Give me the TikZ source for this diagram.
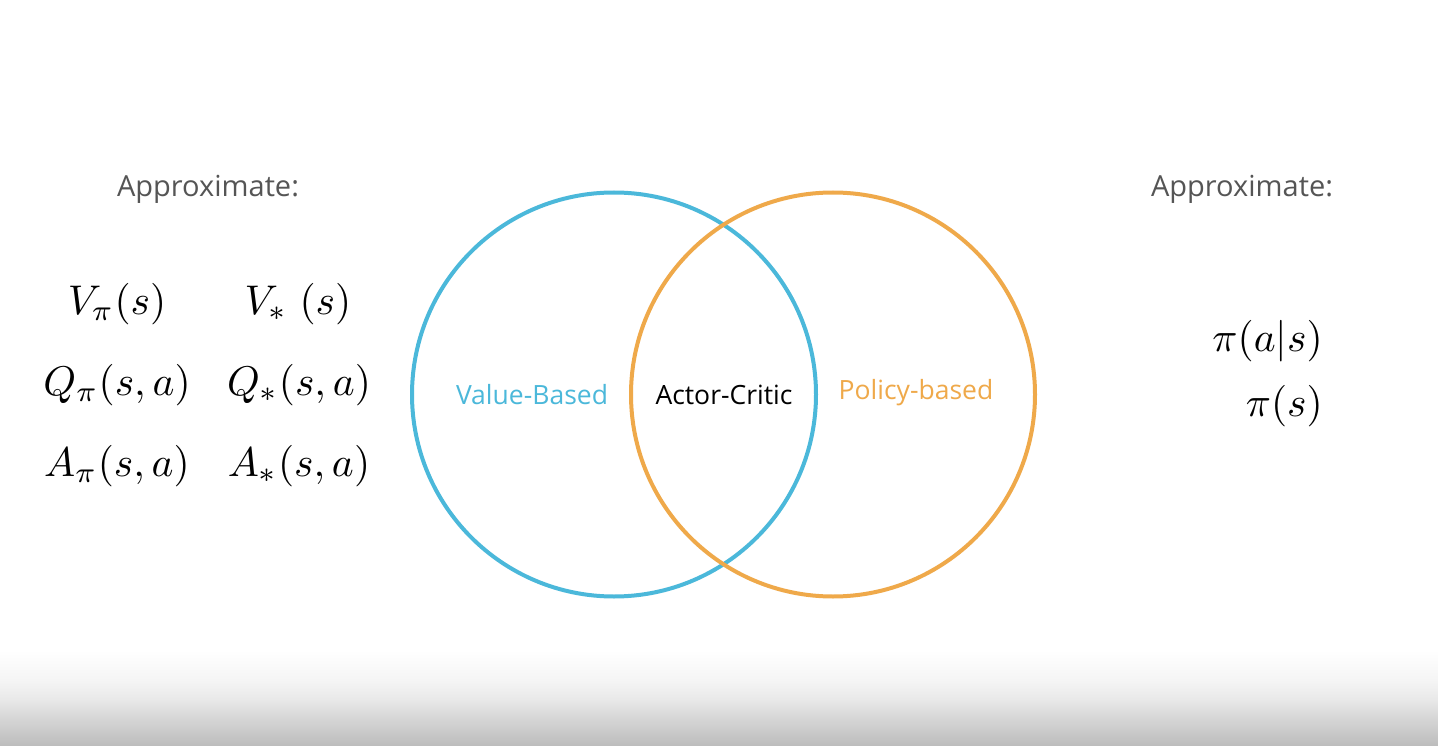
\documentclass[tikz,border=0pt]{standalone}
\usepackage{graphicx}
\usepackage{fontspec}
\setmainfont{Open Sans}
\newfontfamily\labfont{Open Sans}
\definecolor{vblue}{HTML}{4BB8DA}
\definecolor{porange}{HTML}{EFA94A}
\definecolor{apgray}{HTML}{555555}
\definecolor{g1}{HTML}{BCBCBC}
\definecolor{g2}{HTML}{D8D8D8}
\definecolor{g3}{HTML}{E8E8E8}
\definecolor{g4}{HTML}{F5F5F5}
\pgfdeclareverticalshading{bottomfade}{100bp}{color(0bp)=(g1); color(25bp)=(g1); color(37.9bp)=(g2); color(44.8bp)=(g3); color(53.4bp)=(g4); color(66.4bp)=(white); color(100bp)=(white)}
\newcommand{\bigmath}[1]{\scalebox{4.15}{\fontsize{10}{12}\selectfont$#1$}}
\tikzset{
  approx/.style={font=\fontsize{29}{34}\selectfont, text=apgray, inner sep=0pt},
  mathlab/.style={inner sep=0pt},
  setlab/.style={font=\labfont\fontsize{26.5}{30}\selectfont, inner sep=0pt},
  ring/.style={line width=4pt, draw=#1, fill=none}
}
\begin{document}
\begin{tikzpicture}[x=1pt,y=-1pt]
\useasboundingbox (0,0) rectangle (1438,746);
\fill[white] (0,0) rectangle (1438,746);
\shade[shading=bottomfade] (0,630) rectangle (1438,746);
% circles
\node[ring=vblue, circle, minimum size=404pt, inner sep=0pt] (vb) at (614,394.5) {};
\node[ring=porange, circle, minimum size=404pt, inner sep=0pt] (pb) at (833,394.5) {};
% labels
\node[setlab, text=vblue] (vbl) at (532,395) {Value-Based};
\node[setlab, text=black] (acl) at (724,395) {Actor-Critic};
\node[setlab, text=porange] (pbl) at (916,393) {Policy-based};
% approximate
\node[approx] (apl) at (208,189) {Approximate:};
\node[approx] (apr) at (1242,189) {Approximate:};
% left maths
\node[mathlab] (vpi) at (117,304) {\bigmath{V_\pi(s)}};
\node[mathlab] (vst) at (298,304) {\bigmath{V_*\;(s)}};
\node[mathlab] (qpi) at (117,385) {\bigmath{Q_\pi(s,a)}};
\node[mathlab] (qst) at (299,385) {\bigmath{Q_*(s,a)}};
\node[mathlab] (api) at (117,466) {\bigmath{A_\pi(s,a)}};
\node[mathlab] (ast) at (299,466) {\bigmath{A_*(s,a)}};
% right maths
\node[mathlab, anchor=east] (pas) at (1323,341) {\bigmath{\pi(a|s)}};
\node[mathlab, anchor=east] (ps) at (1323,406) {\bigmath{\pi(s)}};
\end{tikzpicture}
\end{document}
